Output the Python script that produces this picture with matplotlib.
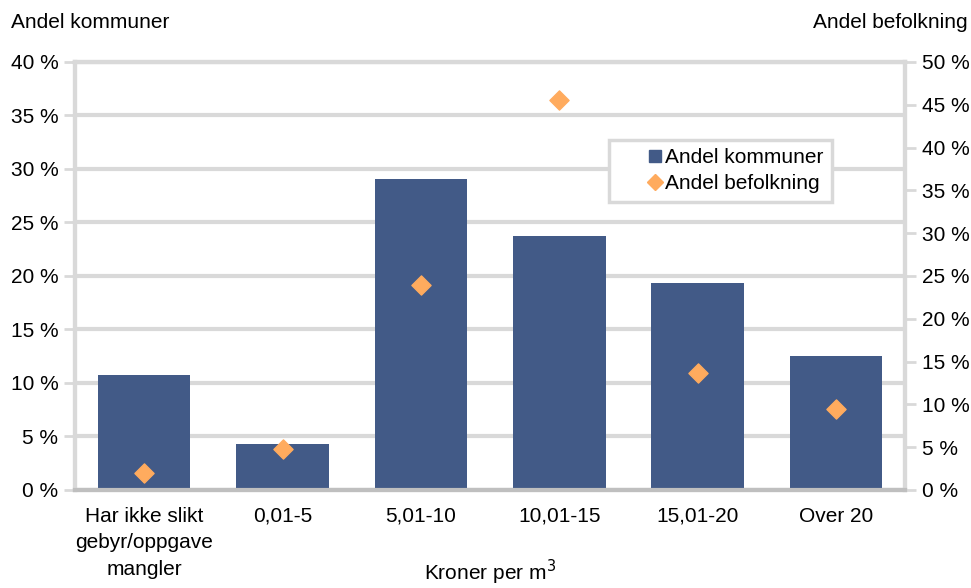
import numpy as np
import matplotlib.pyplot as plt
from matplotlib.lines import Line2D

plt.rcParams['font.family'] = ['Liberation Sans', 'DejaVu Sans']

categories = ['Har ikke slikt\ngebyr/oppgave\nmangler', '0,01-5', '5,01-10', '10,01-15', '15,01-20', 'Over 20']
andel_kommuner = [10.7, 4.3, 29.1, 23.7, 19.3, 12.5]
andel_befolkning = [2.0, 4.8, 24.0, 45.6, 13.7, 9.5]

bar_color = '#425A87'
dot_color = '#FFAB5E'
grid_color = '#D9D9D9'
fs = 15

fig = plt.figure(figsize=(9.71, 5.88), dpi=100)
ax = fig.add_axes([0.0772, 0.1667, 0.855, 0.7279])
ax2 = ax.twinx()

x = np.arange(len(categories))
ax.bar(x, andel_kommuner, width=0.67, color=bar_color, zorder=3)
ax2.scatter(x, andel_befolkning, marker='D', s=95, color=dot_color, zorder=4)

ax.set_xlim(-0.5, len(categories) - 0.5)
ax.set_ylim(0, 40)
ax2.set_ylim(0, 50)
ax.set_yticks(np.arange(0, 41, 5))
ax2.set_yticks(np.arange(0, 51, 5))
ax.set_yticklabels(['%d %%' % v for v in range(0, 41, 5)], fontsize=fs)
ax2.set_yticklabels(['%d %%' % v for v in range(0, 51, 5)], fontsize=fs)
ax.set_xticks(x)
ax.set_xticklabels(categories, fontsize=fs, linespacing=1.5)
ax.tick_params(axis='x', length=0, pad=12)
ax.tick_params(axis='y', length=8, width=2, color=grid_color, pad=4)
ax2.tick_params(axis='y', length=8, width=2, color=grid_color, pad=4)

ax.yaxis.grid(True, color=grid_color, linewidth=3, zorder=0)
ax.set_axisbelow(True)
for a in (ax, ax2):
    for side in ('left', 'right', 'top'):
        a.spines[side].set_color(grid_color)
        a.spines[side].set_linewidth(3)
    a.spines['bottom'].set_color('#BFBFBF')
    a.spines['bottom'].set_linewidth(3)

fig.text(0.011, 0.962, 'Andel kommuner', fontsize=fs, ha='left', va='center')
fig.text(0.997, 0.962, 'Andel befolkning', fontsize=fs, ha='right', va='center')
fig.text(0.505, 0.001, 'Kroner per m$^3$', fontsize=fs, ha='center', va='bottom')

handles = [Line2D([], [], marker='s', linestyle='none', color=bar_color, markersize=9),
           Line2D([], [], marker='D', linestyle='none', color=dot_color, markersize=8)]
leg = ax2.legend(handles, ['Andel kommuner', 'Andel befolkning'], loc='upper right',
                 bbox_to_anchor=(0.912, 0.818), fontsize=fs, fancybox=False, framealpha=1,
                 edgecolor=grid_color, handlelength=3.6, handletextpad=-1.3,
                 borderpad=0.4, labelspacing=0.35, borderaxespad=0)
leg.get_frame().set_linewidth(2.5)

fig.savefig('out.png', dpi=100)
